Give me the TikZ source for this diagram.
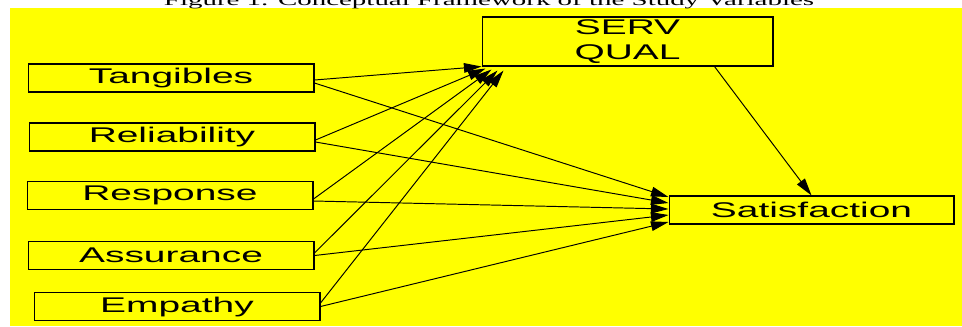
\documentclass[tikz,border=0pt]{standalone}
\usepackage{graphicx}
\usepackage{fontspec}
\setmainfont{Liberation Serif}
\setsansfont{Liberation Sans}
\usetikzlibrary{arrows.meta}
\definecolor{bgyel}{RGB}{255,255,0}
\tikzset{
  fac/.style={draw=black,line width=0.6pt,minimum width=5.72cm,minimum height=0.56cm,inner sep=0pt,font=\sffamily\fontsize{12.1}{14.6}\selectfont},
  lnk/.style={line width=0.55pt,-{Triangle[length=10pt,width=5.5pt]}}
}
\newcommand{\wide}[1]{\scalebox{1.83}[1]{#1}}

\begin{document}
\begin{tikzpicture}[x=0.02cm,y=-0.02cm]
\useasboundingbox (0,0) rectangle (962,326);
\fill[bgyel] (10,8) rectangle (962,326);
\node[anchor=base,inner sep=0pt,font=\fontsize{9}{10}\selectfont] (ttl) at (489,5.5) {\wide{Figure 1. Conceptual Framework of the Study Variables}};
% the five dimensions
\node[fac] (tang) at (171,78) {\wide{Tangibles}};
\node[fac] (reli) at (172,137) {\wide{Reliability}};
\node[fac] (resp) at (170,195.5) {\wide{Response}};
\node[fac] (assu) at (171,255.5) {\wide{Assurance}};
\node[fac] (empa) at (177,306.5) {\wide{Empathy}};
\node[fac,minimum width=5.82cm,minimum height=0.98cm,align=center] (sq) at (627.5,41.5) {\wide{SERV}\\\wide{QUAL}};
\node[fac,minimum width=5.7cm] (sat) at (811.5,210) {\wide{Satisfaction}};
% to SERVQUAL
\draw[lnk] ([shift={(0,2)}]tang.east) -- (sq.south west);
\draw[lnk] ([shift={(0,3)}]reli.east) -- ([shift={(4,2)}]sq.south west);
\draw[lnk] ([shift={(0,3.5)}]resp.east) -- ([shift={(10,3)}]sq.south west);
\draw[lnk] ([shift={(0,-2.5)}]assu.east) -- ([shift={(16,4)}]sq.south west);
\draw[lnk] ([shift={(0,-3.5)}]empa.east) -- ([shift={(22,4)}]sq.south west);
% to satisfaction
\draw[lnk] ([shift={(0,5)}]tang.east) -- ([shift={(0,-13)}]sat.west);
\draw[lnk] ([shift={(0,5)}]reli.east) -- ([shift={(0,-7)}]sat.west);
\draw[lnk] ([shift={(0,5.5)}]resp.east) -- ([shift={(0,-1)}]sat.west);
\draw[lnk] (assu.east) -- ([shift={(0,5)}]sat.west);
\draw[lnk] (empa.east) -- ([shift={(0,12)}]sat.west);
\draw[lnk] ([shift={(87,0)}]sq.south) -- (sat.north);
\end{tikzpicture}
\end{document}
